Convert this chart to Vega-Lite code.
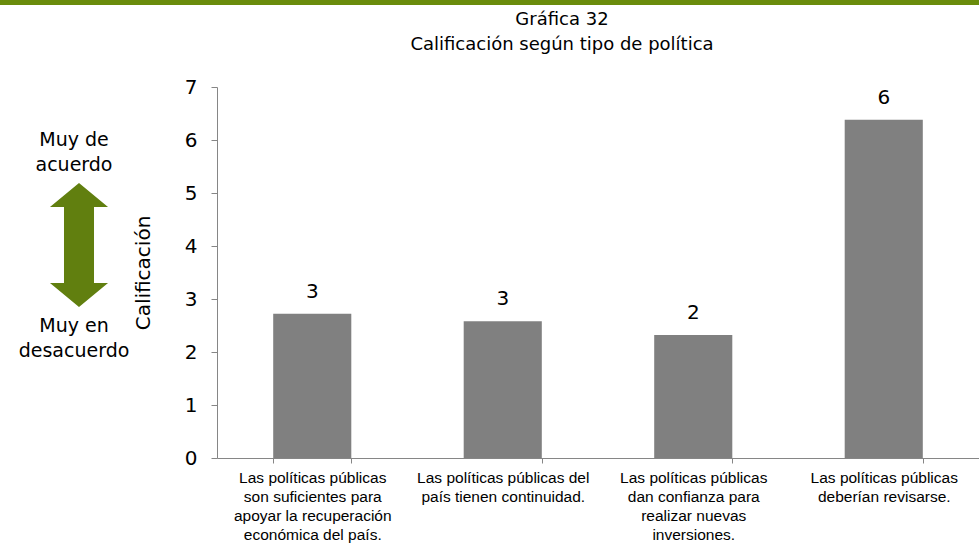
{
  "$schema": "https://vega.github.io/schema/vega-lite/v6.json",
  "padding": {"left": 0, "top": 0, "right": 0, "bottom": 0},
  "config": {
    "view": {"stroke": null},
    "font": "DejaVu Sans",
    "title": {"fontWeight": "normal", "color": "#000000"}
  },
  "spacing": 6,
  "vconcat": [
    {
      "width": 979,
      "height": 5,
      "data": {"values": [{"start": 0, "end": 1}]},
      "mark": {"type": "rect", "color": "#6a8c0c"},
      "encoding": {
        "x": {"field": "start", "type": "quantitative", "scale": {"domain": [0, 1]}, "axis": null},
        "x2": {"field": "end"}
      }
    },
    {
      "bounds": "flush",
      "spacing": 87,
      "hconcat": [
        {
          "width": 130,
          "height": 371,
          "layer": [
            {
              "data": {"values": [
                {"px": 74, "py": 6.0, "texto": "Muy de"},
                {"px": 74, "py": 5.53, "texto": "acuerdo"},
                {"px": 74, "py": 2.49, "texto": "Muy en"},
                {"px": 74, "py": 2.02, "texto": "desacuerdo"}
              ]},
              "mark": {"type": "text", "font": "DejaVu Sans", "fontSize": 19, "baseline": "middle", "align": "center", "color": "#000000"},
              "encoding": {
                "x": {"field": "px", "type": "quantitative", "scale": {"domain": [0, 130]}, "axis": null},
                "y": {"field": "py", "type": "quantitative", "scale": {"domain": [0, 7], "nice": false}, "axis": null},
                "text": {"field": "texto"}
              }
            },
            {
              "data": {"values": [{"px": 79, "py": 4.02}]},
              "mark": {
                "type": "point",
                "filled": true,
                "opacity": 1,
                "color": "#617f0f",
                "size": 15376,
                "shape": "M0,-1L0.468,-0.613L0.242,-0.613L0.242,0.613L0.468,0.613L0,1L-0.468,0.613L-0.242,0.613L-0.242,-0.613L-0.468,-0.613Z"
              },
              "encoding": {
                "x": {"field": "px", "type": "quantitative", "scale": {"domain": [0, 130]}, "axis": null},
                "y": {"field": "py", "type": "quantitative", "scale": {"domain": [0, 7], "nice": false}, "axis": null}
              }
            }
          ]
        },
        {
          "width": 762,
          "height": 371,
          "title": {
            "text": ["Gráfica 32", "Calificación según tipo de política"],
            "font": "DejaVu Sans",
            "fontSize": 18,
            "lineHeight": 25,
            "anchor": "middle",
            "dx": -36,
            "offset": 23,
            "color": "#000000"
          },
          "data": {"values": [
            {"politica": "Las políticas públicas|son suficientes para|apoyar la recuperación|económica del país.", "calificacion": 2.72},
            {"politica": "Las políticas públicas del|país tienen continuidad.", "calificacion": 2.58},
            {"politica": "Las políticas públicas|dan confianza para|realizar nuevas|inversiones.", "calificacion": 2.32},
            {"politica": "Las políticas públicas|deberían revisarse.", "calificacion": 6.38}
          ]},
          "encoding": {
            "x": {
              "field": "politica",
              "type": "nominal",
              "sort": null,
              "scale": {"paddingInner": 0.59, "paddingOuter": 0.295},
              "axis": {
                "title": null,
                "labelAngle": 0,
                "labelExpr": "split(datum.label, '|')",
                "labelFont": "Liberation Sans",
                "labelFontSize": 15.5,
                "labelLineHeight": 19,
                "labelColor": "#000000",
                "labelLimit": 0,
                "labelPadding": 7,
                "labelBaseline": "top",
                "tickBand": "extent",
                "tickSize": 5,
                "tickColor": "#868686",
                "domainColor": "#868686",
                "labelAlign": "center"
              }
            },
            "y": {
              "field": "calificacion",
              "type": "quantitative",
              "scale": {"domain": [0, 7], "nice": false},
              "axis": {
                "title": "Calificación",
                "titleFont": "DejaVu Sans",
                "titleFontSize": 20,
                "titleFontWeight": "normal",
                "titleColor": "#000000",
                "titlePadding": 31,
                "values": [0, 1, 2, 3, 4, 5, 6, 7],
                "grid": false,
                "labelFont": "DejaVu Sans",
                "labelFontSize": 20,
                "labelColor": "#000000",
                "labelPadding": 14,
                "tickSize": 6,
                "tickColor": "#868686",
                "domainColor": "#868686"
              }
            }
          },
          "layer": [
            {"mark": {"type": "bar", "color": "#808080"}},
            {
              "mark": {"type": "text", "font": "DejaVu Sans", "fontSize": 20, "baseline": "alphabetic", "dy": -16, "color": "#000000"},
              "encoding": {"text": {"field": "calificacion", "type": "quantitative", "format": ".0f"}}
            }
          ]
        }
      ]
    }
  ]
}
